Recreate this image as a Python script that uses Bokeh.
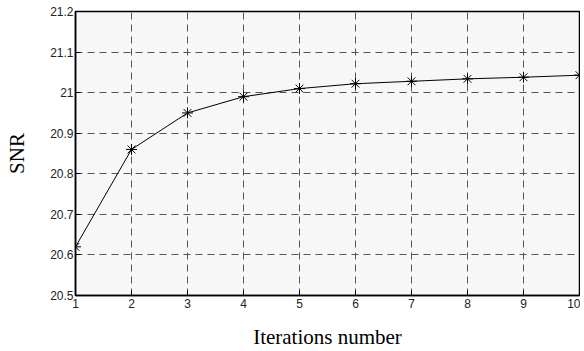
from bokeh.plotting import figure
from bokeh.embed import file_html
from bokeh.resources import INLINE
from bokeh.models import FixedTicker, Range1d

iterations = [1, 2, 3, 4, 5, 6, 7, 8, 9, 10]
snr = [20.62, 20.86, 20.95, 20.99, 21.01, 21.022, 21.028, 21.034, 21.038, 21.043]
x_ticks = [1, 2, 3, 4, 5, 6, 7, 8, 9, 10]
y_ticks = [20.5, 20.6, 20.7, 20.8, 20.9, 21.0, 21.1, 21.2]
y_labels = {20.5: "20.5", 20.6: "20.6", 20.7: "20.7", 20.8: "20.8", 20.9: "20.9",
            21.0: "21", 21.1: "21.1", 21.2: "21.2"}

p = figure(width=580, height=345, output_backend="svg", toolbar_location=None,
           x_range=Range1d(1, 10), y_range=Range1d(20.5, 21.2),
           min_border_left=75, min_border_right=1, min_border_top=11, min_border_bottom=50)
p.frame_width = 504
p.frame_height = 284

p.background_fill_color = "#f7f7f7"
p.border_fill_color = "white"
p.outline_line_color = "black"
p.outline_line_width = 1.5

p.line(iterations, snr, line_color="black", line_width=1)
p.scatter(iterations, snr, marker="asterisk", size=11, line_color="black", line_width=1)

for ax in (p.xaxis[0], p.yaxis[0]):
    ax.major_tick_in = 5
    ax.major_tick_out = 0
    ax.minor_tick_in = 0
    ax.minor_tick_out = 0
    ax.axis_line_color = "black"
    ax.axis_line_width = 1.5
    ax.major_label_text_font = "Liberation Sans"
    ax.major_label_text_font_size = "12px"
    ax.major_label_text_color = "#222222"
    ax.axis_label_text_font = "Liberation Serif"
    ax.axis_label_text_font_size = "21px"
    ax.axis_label_text_font_style = "normal"
    ax.axis_label_text_color = "black"

p.xaxis.ticker = FixedTicker(ticks=x_ticks)
p.yaxis.ticker = FixedTicker(ticks=y_ticks)
p.yaxis.major_label_overrides = y_labels
p.xaxis.axis_label = "Iterations number"
p.yaxis.axis_label = "SNR"
p.xaxis.major_label_standoff = 3
p.yaxis.major_label_standoff = 2
p.xaxis.axis_label_standoff = 14
p.yaxis.axis_label_standoff = 18

p.grid.grid_line_color = "#555555"
p.grid.grid_line_dash = "7 5"
p.grid.grid_line_width = 1

open("out.html", "w").write(file_html(p, INLINE))
